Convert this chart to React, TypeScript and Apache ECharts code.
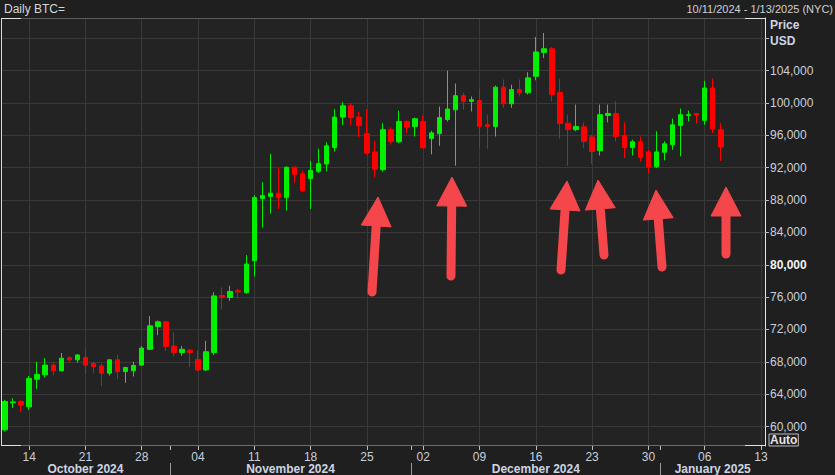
import React, { useEffect, useRef } from 'react';
import * as echarts from 'echarts';

const dates = [
  '2024-10-11','2024-10-12','2024-10-13','2024-10-14','2024-10-15','2024-10-16','2024-10-17','2024-10-18','2024-10-19','2024-10-20',
  '2024-10-21','2024-10-22','2024-10-23','2024-10-24','2024-10-25','2024-10-26','2024-10-27','2024-10-28','2024-10-29','2024-10-30','2024-10-31',
  '2024-11-01','2024-11-02','2024-11-03','2024-11-04','2024-11-05','2024-11-06','2024-11-07','2024-11-08','2024-11-09','2024-11-10',
  '2024-11-11','2024-11-12','2024-11-13','2024-11-14','2024-11-15','2024-11-16','2024-11-17','2024-11-18','2024-11-19','2024-11-20',
  '2024-11-21','2024-11-22','2024-11-23','2024-11-24','2024-11-25','2024-11-26','2024-11-27','2024-11-28','2024-11-29','2024-11-30',
  '2024-12-01','2024-12-02','2024-12-03','2024-12-04','2024-12-05','2024-12-06','2024-12-07','2024-12-08','2024-12-09','2024-12-10',
  '2024-12-11','2024-12-12','2024-12-13','2024-12-14','2024-12-15','2024-12-16','2024-12-17','2024-12-18','2024-12-19','2024-12-20',
  '2024-12-21','2024-12-22','2024-12-23','2024-12-24','2024-12-25','2024-12-26','2024-12-27','2024-12-28','2024-12-29','2024-12-30','2024-12-31',
  '2025-01-01','2025-01-02','2025-01-03','2025-01-04','2025-01-05','2025-01-06','2025-01-07','2025-01-08','2025-01-09','2025-01-10',
  '2025-01-11','2025-01-12','2025-01-13',
];

const opens = [
  59600, 62950, 63100, 62450, 65850, 66400, 67600, 66900, 68500, 68250,
  68550, 67800, 67500, 66600, 68250, 66800, 66900, 67600, 69550, 72350, 72950,
  69950, 69150, 69450, 68300, 67000, 69150, 76200, 75950, 76800, 76550,
  80500, 88200, 88450, 88850, 88300, 92050, 91250, 90650, 91550, 92450,
  94500, 98250, 99650, 98250, 96200, 93950, 91750, 96700, 95200, 97700,
  97100, 97700, 95600, 96200, 97950, 99150, 100900, 100200, 100300, 97300,
  97100, 101950, 99900, 101650, 101250, 103300, 106250, 106700, 101300, 97500,
  96700, 97050, 95800, 94100, 98450, 98700, 95950, 94500, 95200, 93950, 92100,
  93900, 94850, 97200, 98450, 98700, 97850, 101850, 96700,
];
const closes = [
  63100, 63050, 62650, 65950, 66450, 67600, 66900, 68450, 68250, 68850,
  67600, 67400, 66600, 68250, 66800, 67300, 67550, 69700, 72450, 72950, 69900,
  69150, 69550, 69150, 67000, 69250, 76150, 75950, 76700, 76650, 80100,
  88300, 88550, 88850, 88300, 92050, 91150, 89150, 91650, 92500, 94700,
  98250, 99650, 98200, 97200, 93800, 91850, 96700, 95250, 97700, 97000,
  98050, 94450, 96300, 98200, 99250, 100900, 100200, 100400, 97100, 97100,
  101950, 99900, 101650, 101250, 103100, 106300, 106700, 101050, 97450, 96700,
  97100, 95250, 94000, 98550, 98700, 95850, 94500, 95200, 93250, 92100, 93950,
  94950, 97300, 98550, 98550, 98500, 101850, 96800, 94554.36,
];
const lows = [
  59400, 62300, 61800, 62050, 64650, 66050, 66350, 66800, 67900, 67900,
  66500, 66600, 65000, 66300, 65850, 65400, 66200, 67500, 69450, 71300, 69350,
  68650, 68750, 67350, 66800, 66850, 68850, 74500, 75550, 75850, 76400,
  78550, 84600, 86300, 86900, 86700, 90150, 88950, 86900, 91350, 91550,
  94000, 97300, 97250, 95800, 93600, 90800, 91500, 94850, 95050, 96200,
  95850, 94450, 93650, 94700, 97700, 92250, 99150, 98950, 94400, 94350,
  95850, 99400, 99400, 100800, 101050, 102800, 105550, 100200, 95600, 92250,
  96500, 94450, 92500, 93500, 97600, 95250, 93200, 93500, 92750, 91350, 91950,
  92900, 94200, 93400, 97700, 97450, 97300, 96300, 92850,
];
const highs = [
  63300, 63500, 63250, 66250, 68000, 68450, 67950, 69100, 68700, 68950,
  69600, 68000, 67800, 68300, 68850, 67400, 68000, 69950, 73650, 73100, 73100,
  71650, 69950, 69500, 69450, 70600, 76600, 77200, 77400, 77050, 81200,
  88600, 90200, 93700, 92000, 92150, 92150, 91650, 92850, 94350, 95150,
  99250, 100100, 100000, 98900, 99250, 95350, 97500, 97000, 99050, 97850,
  98200, 98450, 96550, 99550, 104000, 102400, 101250, 100800, 101750, 98550,
  102150, 102900, 102250, 102900, 103800, 108150, 108650, 106900, 103000, 98550,
  99800, 97600, 96100, 99800, 99800, 100200, 97600, 95450, 95850, 94200, 96500,
  95250, 98050, 99300, 99050, 98750, 102750, 103000, 97500,
];

const yLabelValues = [60000, 64000, 68000, 72000, 76000, 80000, 84000, 88000, 92000, 96000, 100000, 104000];
const yGridValues = [60000, 64000, 68000, 72000, 76000, 80000, 84000, 88000, 92000, 96000, 100000, 104000, 108000];
const weekTickDates = [
  '2024-10-14','2024-10-21','2024-10-28','2024-11-04','2024-11-11','2024-11-18','2024-11-25',
  '2024-12-02','2024-12-09','2024-12-16','2024-12-23','2024-12-30','2025-01-06','2025-01-13',
];
const monthStartDates = ['2024-11-01', '2024-12-01', '2025-01-01'];
const monthLabels = ['October 2024', 'November 2024', 'December 2024', 'January 2025'];
const lastPrice = 94554.36;
const lastPriceText = '94,554.36';
const boldLabelValue = 80000;

// annotation arrows: [tipX, tipY, tailX, tailY] in pixels
const arrows = [
  [378, 197, 372, 292],
  [452, 177, 451, 276],
  [567, 181, 561, 270],
  [598, 180, 604, 255],
  [656, 190, 662, 267],
  [726, 187, 726, 254],
];

const FONT = 'Liberation Sans';
const GREEN = '#00f000';
const RED = '#ff0000';
const GRID_COLOR = '#393939';
const LABEL_COLOR = '#c8cfdb';
const ARROW_COLOR = '#f4464b';

function fmt(v: number): string {
  const s = String(Math.round(v));
  return s.replace(/\B(?=(\d{3})+(?!\d))/g, ',');
}

export default function App() {
  const ref = useRef<HTMLDivElement>(null);

  useEffect(() => {
    const chart = echarts.init(ref.current!, null, { renderer: 'svg' });
    const candleData = opens.map((o, i) => [o, closes[i], lows[i], highs[i]]);

    chart.setOption({
      animation: false,
      backgroundColor: '#1f1f1f',
      grid: {
        left: 1, right: 70, top: 18, bottom: 29,
        show: true, backgroundColor: '#232323', borderWidth: 0,
      },
      xAxis: {
        type: 'category',
        data: dates,
        boundaryGap: true,
        axisLine: { show: false },
        axisTick: {
          show: true, alignWithLabel: true, length: 4,
          interval: (_i: number, v: string) => weekTickDates.includes(v),
          lineStyle: { color: '#bdbdbd' },
        },
        axisLabel: {
          interval: (_i: number, v: string) => weekTickDates.includes(v),
          formatter: (v: string) => v.slice(8),
          color: LABEL_COLOR, fontSize: 12, fontFamily: FONT, margin: 5, lineHeight: 11,
        },
        splitLine: { show: false },
      },
      yAxis: {
        type: 'value',
        position: 'right',
        min: 57600,
        max: 110500,
        axisLine: { show: true, lineStyle: { color: '#e6e6e6' } },
        axisTick: { show: true, length: 4, customValues: yGridValues, lineStyle: { color: '#bdbdbd' } },
        axisLabel: {
          customValues: yLabelValues,
          formatter: (v: number) => (v === boldLabelValue ? '{b|' + fmt(v) + '}' : fmt(v)),
          color: LABEL_COLOR, fontSize: 12, fontFamily: FONT, margin: 5, lineHeight: 11,
          rich: { b: { fontWeight: 'bold', color: '#f2f2f2', fontSize: 12, fontFamily: FONT, lineHeight: 11 } },
        },
        splitLine: { show: true, lineStyle: { color: GRID_COLOR, width: 1 } },
      },
      series: [
        {
          type: 'candlestick',
          data: candleData,
          barWidth: 5,
          z: 2,
          itemStyle: {
            color: GREEN, color0: RED, borderColor: GREEN, borderColor0: RED, borderWidth: 1,
          },
          markLine: {
            z: 1,
            silent: true,
            symbol: 'none',
            animation: false,
            label: { show: false },
            lineStyle: { color: GRID_COLOR, width: 1, type: 'solid' },
            data: [
              ...weekTickDates.map((d) => ({ xAxis: d })),
              {
                yAxis: lastPrice,
                lineStyle: { opacity: 0 },
                label: {
                  show: true, position: 'end', distance: 0,
                  formatter: lastPriceText,
                  backgroundColor: RED, color: '#1a0000',
                  fontWeight: 'bold', fontSize: 12, fontFamily: FONT, lineHeight: 11,
                  padding: [0, 5, 0, 3],
                },
              },
            ],
          },
        },
      ],
    });

    // annotations / frame computed from the axes
    const px = (d: string) => chart.convertToPixel({ xAxisIndex: 0 }, d) as number;
    const py = (v: number) => chart.convertToPixel({ yAxisIndex: 0 }, v) as number;
    const band = px(dates[1]) - px(dates[0]);
    const left = px(dates[0]) - band / 2;
    const right = px(dates[dates.length - 1]) + band / 2;
    const top = py(110500);
    const bottom = py(57600);
    const bounds = [left, ...monthStartDates.map((d) => px(d) - band / 2), right];

    const g: any[] = [];
    const line = (x1: number, y1: number, x2: number, y2: number, stroke: string, w = 1) =>
      g.push({ type: 'line', z: 50, silent: true, shape: { x1, y1, x2, y2 }, style: { stroke, lineWidth: w } });

    // frame
    line(left, top + 0.5, right, top + 0.5, '#5c5c5c');
    line(left, bottom - 0.5, right, bottom - 0.5, '#6a6a6a');
    line(left + 0.5, top, left + 0.5, bottom, '#d8d8d8');
    line(left, top + 0.5, left + 20, top + 0.5, '#e0e0e0');
    line(right - 20, top + 0.5, right, top + 0.5, '#e0e0e0');
    line(left, bottom - 0.5, left + 20, bottom - 0.5, '#e0e0e0');
    line(right - 20, bottom - 0.5, right, bottom - 0.5, '#e0e0e0');

    // month separators and labels
    for (let i = 1; i < bounds.length - 1; i++) {
      const x = Math.round(bounds[i]) + 0.5;
      line(x, bottom, x, bottom + 4, '#bdbdbd');
      line(x, bottom + 17, x, 475, '#9a9a9a');
    }
    monthLabels.forEach((m, i) => {
      g.push({
        type: 'text', z: 50, silent: true,
        x: (bounds[i] + bounds[i + 1]) / 2, y: bottom + 23,
        style: {
          text: m, fill: '#cdd5e3', align: 'center', verticalAlign: 'middle',
          font: 'bold 12px ' + FONT, lineHeight: 12,
        },
      });
    });

    // header texts
    g.push({
      type: 'text', z: 50, silent: true, x: 4, y: 9,
      style: { text: 'Daily BTC=', fill: '#d6d6d6', verticalAlign: 'middle', font: '12px ' + FONT },
    });
    g.push({
      type: 'text', z: 50, silent: true, x: 833, y: 9,
      style: { text: '10/11/2024 - 1/13/2025 (NYC)', fill: '#d0d0d0', align: 'right', verticalAlign: 'middle', font: '11px ' + FONT },
    });
    g.push({
      type: 'text', z: 50, silent: true, x: right + 5, y: 25,
      style: { text: 'Price', fill: '#cdd5e3', verticalAlign: 'middle', font: 'bold 12px ' + FONT, lineHeight: 12 },
    });
    g.push({
      type: 'text', z: 50, silent: true, x: right + 5, y: 41,
      style: { text: 'USD', fill: '#cdd5e3', verticalAlign: 'middle', font: 'bold 12px ' + FONT, lineHeight: 12 },
    });
    g.push({
      type: 'text', z: 50, silent: true, x: right + 4, y: bottom - 6,
      style: {
        text: 'Auto', fill: '#e6e6e6', verticalAlign: 'middle', font: 'bold 12px ' + FONT, lineHeight: 11,
        borderColor: '#bdbdbd', borderWidth: 1, padding: [1, 1, 0, 1],
      },
    });

    // arrows
    arrows.forEach(([tx, ty, bx, by]) => {
      const dx = tx - bx, dy = ty - by;
      const len = Math.hypot(dx, dy);
      const ux = dx / len, uy = dy / len;
      const nx = -uy, ny = ux;
      const headLen = 29, half = 15;
      const hx = tx - ux * headLen, hy = ty - uy * headLen;
      g.push({
        type: 'line', z: 60, silent: true,
        shape: { x1: bx, y1: by, x2: hx + ux * 3, y2: hy + uy * 3 },
        style: { stroke: ARROW_COLOR, lineWidth: 9, lineCap: 'round' },
      });
      g.push({
        type: 'polygon', z: 60, silent: true,
        shape: { points: [[tx, ty], [hx + nx * half, hy + ny * half], [hx - nx * half, hy - ny * half]] },
        style: { fill: ARROW_COLOR, stroke: ARROW_COLOR, lineWidth: 1, lineJoin: 'round' },
      });
    });

    chart.setOption({ graphic: g });

    return () => chart.dispose();
  }, []);

  return (
    <div
      ref={ref}
      style={{ position: 'fixed', left: 0, top: 0, width: 835, height: 475 }}
    />
  );
}
